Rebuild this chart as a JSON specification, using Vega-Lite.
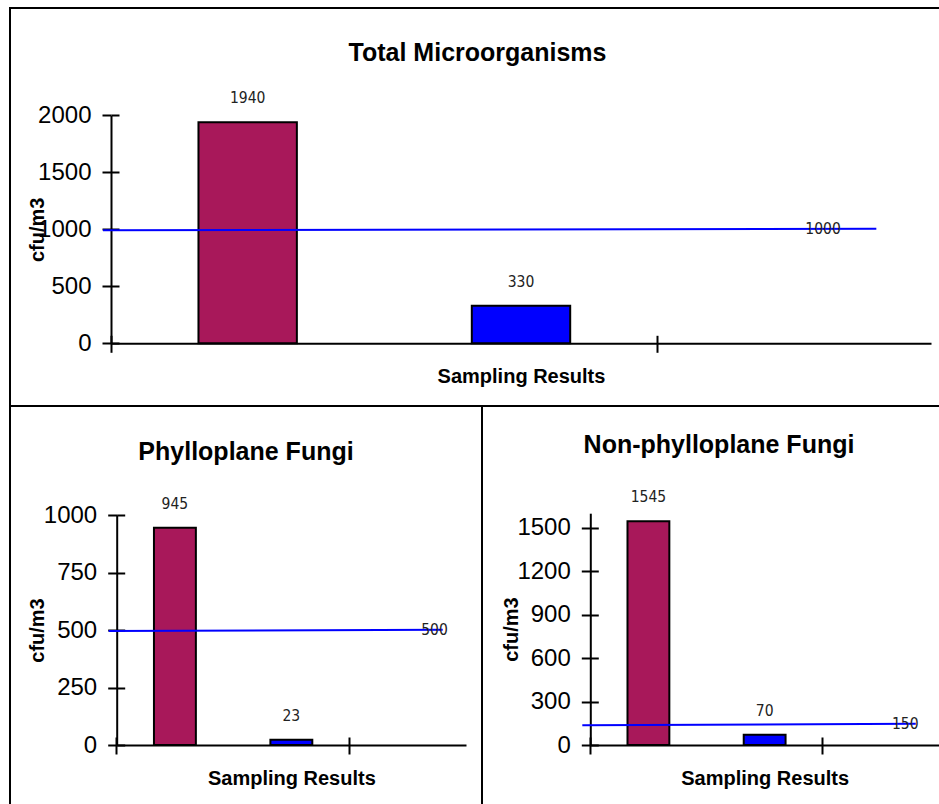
{
  "$schema": "https://vega.github.io/schema/vega-lite/v6.json",
  "padding": {"left": 9, "top": 7, "right": 0, "bottom": 0},
  "autosize": {"type": "pad"},
  "spacing": 0,
  "bounds": "flush",
  "config": {
    "view": {"stroke": "black", "strokeWidth": 2},
    "font": "Liberation Sans",
    "background": "white"
  },
  "datasets": {
    "counts": [
      {"panel": "Total Microorganisms", "series": "Series 1", "count": 1940},
      {"panel": "Total Microorganisms", "series": "Series 2", "count": 330},
      {"panel": "Phylloplane Fungi", "series": "Series 1", "count": 945},
      {"panel": "Phylloplane Fungi", "series": "Series 2", "count": 23},
      {"panel": "Non-phylloplane Fungi", "series": "Series 1", "count": 1545},
      {"panel": "Non-phylloplane Fungi", "series": "Series 2", "count": 70}
    ],
    "limits": [
      {"panel": "Total Microorganisms", "limit": 1000, "line_start": 992, "line_end": 1004},
      {"panel": "Phylloplane Fungi", "limit": 500, "line_start": 496, "line_end": 501},
      {"panel": "Non-phylloplane Fungi", "limit": 150, "line_start": 136, "line_end": 147}
    ]
  },
  "vconcat": [
    {
      "width": 935,
      "height": 398,
      "title": {"text": "Total Microorganisms", "fontSize": 25, "font": "Liberation Sans", "fontWeight": "bold", "anchor": "middle", "offset": -70, "baseline": "middle", "color": "black"},
      "resolve": {"axis": {"x": "independent", "y": "independent"}},
      "layer": [
        {
          "data": {"name": "counts"},
          "transform": [{"filter": "datum.panel === 'Total Microorganisms'"}],
          "mark": {"type": "bar", "width": {"band": 0.36}, "stroke": "black", "strokeWidth": 2},
          "encoding": {
            "x": {"field": "series", "type": "nominal",
              "scale": {"domain": ["Series 1", "Series 2", "Limit"], "range": [101, 921], "paddingInner": 0, "paddingOuter": 0},
              "axis": {"orient": "bottom", "offset": -62.7, "values": ["Series 1", "Limit"], "bandPosition": 0, "labels": false, "tickSize": 9, "tickWidth": 2, "tickColor": "black", "domainColor": "black", "domainWidth": 2, "title": "Sampling Results", "titleFont": "Liberation Sans", "titleFontSize": 20, "titleFontWeight": "bold", "titleColor": "black", "titleY": 33, "titleBaseline": "middle", "grid": false}},
            "y": {"field": "count", "type": "quantitative",
              "scale": {"domain": [0, 2000], "range": [335.3, 107.3], "nice": false},
              "axis": {"orient": "left", "offset": -101, "values": [0, 500, 1000, 1500, 2000], "format": "d", "tickSize": 9, "tickWidth": 2, "tickColor": "black", "domainColor": "black", "domainWidth": 2, "labelFont": "Liberation Sans", "labelFontSize": 24, "labelColor": "black", "labelPadding": 11, "title": "cfu/m3", "titleFont": "Liberation Sans", "titleFontSize": 20, "titleFontWeight": "bold", "titleColor": "black", "titleX": -74, "titleBaseline": "middle", "grid": false}},
            "color": {"field": "series", "type": "nominal", "scale": {"domain": ["Series 1", "Series 2"], "range": ["#A8185A", "#0000FF"]}, "legend": null}
          }
        },
        {
          "data": {"name": "counts"},
          "transform": [{"filter": "datum.panel === 'Total Microorganisms'"}],
          "mark": {"type": "text", "dy": -24, "baseline": "middle", "align": "center", "font": "DejaVu Sans Condensed, Liberation Sans", "fontSize": 15.5, "color": "#222222"},
          "encoding": {
            "x": {"field": "series", "type": "nominal", "axis": null},
            "y": {"field": "count", "type": "quantitative", "axis": null},
            "text": {"field": "count", "type": "quantitative", "format": "d"}
          }
        },
        {
          "data": {"name": "limits"},
          "transform": [{"filter": "datum.panel === 'Total Microorganisms'"}],
          "mark": {"type": "rule", "color": "#0000FF", "strokeWidth": 2, "xOffset": -8},
          "encoding": {
            "x": {"datum": "Series 1", "bandPosition": 0,
              "axis": {"orient": "bottom", "offset": -62.7, "values": ["Series 1", "Limit"], "bandPosition": 0, "labels": false, "domain": false, "tickSize": -8, "tickWidth": 2, "tickColor": "black", "title": null, "grid": false}},
            "x2": {"datum": "Limit", "bandPosition": 0.8},
            "y": {"field": "line_start", "type": "quantitative",
              "axis": {"orient": "left", "offset": -101, "values": [0, 500, 1000, 1500, 2000], "labels": false, "domain": false, "tickSize": -8, "tickWidth": 2, "tickColor": "black", "title": null, "grid": false}},
            "y2": {"field": "line_end"}
          }
        },
        {
          "data": {"name": "limits"},
          "transform": [{"filter": "datum.panel === 'Total Microorganisms'"}],
          "mark": {"type": "text", "baseline": "middle", "align": "center", "font": "DejaVu Sans Condensed, Liberation Sans", "fontSize": 15.5, "color": "#222222"},
          "encoding": {
            "x": {"datum": "Limit", "bandPosition": 0.605, "axis": null},
            "y": {"field": "line_end", "type": "quantitative", "axis": null},
            "text": {"field": "limit", "type": "quantitative", "format": "d"}
          }
        }
      ]
    },
    {
      "hconcat": [
        {
          "width": 472,
          "height": 402,
          "title": {"text": "Phylloplane Fungi", "fontSize": 25, "font": "Liberation Sans", "fontWeight": "bold", "anchor": "middle", "offset": -71, "baseline": "middle", "color": "black"},
          "resolve": {"axis": {"x": "independent", "y": "independent"}},
          "layer": [
            {
              "data": {"name": "counts"},
              "transform": [{"filter": "datum.panel === 'Phylloplane Fungi'"}],
              "mark": {"type": "bar", "width": {"band": 0.36}, "stroke": "black", "strokeWidth": 2},
              "encoding": {
                "x": {"field": "series", "type": "nominal",
                  "scale": {"domain": ["Series 1", "Series 2", "Limit"], "range": [106.7, 456], "paddingInner": 0, "paddingOuter": 0},
                  "axis": {"orient": "bottom", "offset": -63, "values": ["Series 1", "Limit"], "bandPosition": 0, "labels": false, "tickSize": 9, "tickWidth": 2, "tickColor": "black", "domainColor": "black", "domainWidth": 2, "title": "Sampling Results", "titleFont": "Liberation Sans", "titleFontSize": 20, "titleFontWeight": "bold", "titleColor": "black", "titleY": 33, "titleBaseline": "middle", "grid": false}},
                "y": {"field": "count", "type": "quantitative",
                  "scale": {"domain": [0, 1000], "range": [339, 109], "nice": false},
                  "axis": {"orient": "left", "offset": -106.7, "values": [0, 250, 500, 750, 1000], "format": "d", "tickSize": 9, "tickWidth": 2, "tickColor": "black", "domainColor": "black", "domainWidth": 2, "labelFont": "Liberation Sans", "labelFontSize": 24, "labelColor": "black", "labelPadding": 11, "title": "cfu/m3", "titleFont": "Liberation Sans", "titleFontSize": 20, "titleFontWeight": "bold", "titleColor": "black", "titleX": -79, "titleBaseline": "middle", "grid": false}},
                "color": {"field": "series", "type": "nominal", "scale": {"domain": ["Series 1", "Series 2"], "range": ["#A8185A", "#0000FF"]}, "legend": null}
              }
            },
            {
              "data": {"name": "counts"},
              "transform": [{"filter": "datum.panel === 'Phylloplane Fungi'"}],
              "mark": {"type": "text", "dy": -24, "baseline": "middle", "align": "center", "font": "DejaVu Sans Condensed, Liberation Sans", "fontSize": 15.5, "color": "#222222"},
              "encoding": {
                "x": {"field": "series", "type": "nominal", "axis": null},
                "y": {"field": "count", "type": "quantitative", "axis": null},
                "text": {"field": "count", "type": "quantitative", "format": "d"}
              }
            },
            {
              "data": {"name": "limits"},
              "transform": [{"filter": "datum.panel === 'Phylloplane Fungi'"}],
              "mark": {"type": "rule", "color": "#0000FF", "strokeWidth": 2, "xOffset": -8},
              "encoding": {
                "x": {"datum": "Series 1", "bandPosition": 0,
                  "axis": {"orient": "bottom", "offset": -63, "values": ["Series 1", "Limit"], "bandPosition": 0, "labels": false, "domain": false, "tickSize": -8, "tickWidth": 2, "tickColor": "black", "title": null, "grid": false}},
                "x2": {"datum": "Limit", "bandPosition": 0.8},
                "y": {"field": "line_start", "type": "quantitative",
                  "axis": {"orient": "left", "offset": -106.7, "values": [0, 250, 500, 750, 1000], "labels": false, "domain": false, "tickSize": -8, "tickWidth": 2, "tickColor": "black", "title": null, "grid": false}},
                "y2": {"field": "line_end"}
              }
            },
            {
              "data": {"name": "limits"},
              "transform": [{"filter": "datum.panel === 'Phylloplane Fungi'"}],
              "mark": {"type": "text", "baseline": "middle", "align": "center", "font": "DejaVu Sans Condensed, Liberation Sans", "fontSize": 15.5, "color": "#222222"},
              "encoding": {
                "x": {"datum": "Limit", "bandPosition": 0.73, "axis": null},
                "y": {"field": "line_end", "type": "quantitative", "axis": null},
                "text": {"field": "limit", "type": "quantitative", "format": "d"}
              }
            }
          ]
        },
        {
          "width": 463,
          "height": 402,
          "title": {"text": "Non-phylloplane Fungi", "fontSize": 25, "font": "Liberation Sans", "fontWeight": "bold", "anchor": "middle", "offset": -64, "dx": 5.5, "baseline": "middle", "color": "black"},
          "resolve": {"axis": {"x": "independent", "y": "independent"}},
          "layer": [
            {
              "data": {"name": "counts"},
              "transform": [{"filter": "datum.panel === 'Non-phylloplane Fungi'"}],
              "mark": {"type": "bar", "width": {"band": 0.36}, "stroke": "black", "strokeWidth": 2},
              "encoding": {
                "x": {"field": "series", "type": "nominal",
                  "scale": {"domain": ["Series 1", "Series 2", "Limit"], "range": [108.3, 457], "paddingInner": 0, "paddingOuter": 0},
                  "axis": {"orient": "bottom", "offset": -63, "values": ["Series 1", "Limit"], "bandPosition": 0, "labels": false, "tickSize": 9, "tickWidth": 2, "tickColor": "black", "domainColor": "black", "domainWidth": 2, "title": "Sampling Results", "titleFont": "Liberation Sans", "titleFontSize": 20, "titleFontWeight": "bold", "titleColor": "black", "titleY": 33, "titleBaseline": "middle", "grid": false}},
                "y": {"field": "count", "type": "quantitative",
                  "scale": {"domain": [0, 1600], "range": [339, 107.2], "nice": false},
                  "axis": {"orient": "left", "offset": -108.3, "values": [0, 300, 600, 900, 1200, 1500], "format": "d", "tickSize": 9, "tickWidth": 2, "tickColor": "black", "domainColor": "black", "domainWidth": 2, "labelFont": "Liberation Sans", "labelFontSize": 24, "labelColor": "black", "labelPadding": 11, "title": "cfu/m3", "titleFont": "Liberation Sans", "titleFontSize": 20, "titleFontWeight": "bold", "titleColor": "black", "titleX": -79.3, "titleBaseline": "middle", "grid": false}},
                "color": {"field": "series", "type": "nominal", "scale": {"domain": ["Series 1", "Series 2"], "range": ["#A8185A", "#0000FF"]}, "legend": null}
              }
            },
            {
              "data": {"name": "counts"},
              "transform": [{"filter": "datum.panel === 'Non-phylloplane Fungi'"}],
              "mark": {"type": "text", "dy": -24, "baseline": "middle", "align": "center", "font": "DejaVu Sans Condensed, Liberation Sans", "fontSize": 15.5, "color": "#222222"},
              "encoding": {
                "x": {"field": "series", "type": "nominal", "axis": null},
                "y": {"field": "count", "type": "quantitative", "axis": null},
                "text": {"field": "count", "type": "quantitative", "format": "d"}
              }
            },
            {
              "data": {"name": "limits"},
              "transform": [{"filter": "datum.panel === 'Non-phylloplane Fungi'"}],
              "mark": {"type": "rule", "color": "#0000FF", "strokeWidth": 2, "xOffset": -8},
              "encoding": {
                "x": {"datum": "Series 1", "bandPosition": 0,
                  "axis": {"orient": "bottom", "offset": -63, "values": ["Series 1", "Limit"], "bandPosition": 0, "labels": false, "domain": false, "tickSize": -8, "tickWidth": 2, "tickColor": "black", "title": null, "grid": false}},
                "x2": {"datum": "Limit", "bandPosition": 0.8},
                "y": {"field": "line_start", "type": "quantitative",
                  "axis": {"orient": "left", "offset": -108.3, "values": [0, 300, 600, 900, 1200, 1500], "labels": false, "domain": false, "tickSize": -8, "tickWidth": 2, "tickColor": "black", "title": null, "grid": false}},
                "y2": {"field": "line_end"}
              }
            },
            {
              "data": {"name": "limits"},
              "transform": [{"filter": "datum.panel === 'Non-phylloplane Fungi'"}],
              "mark": {"type": "text", "baseline": "middle", "align": "center", "font": "DejaVu Sans Condensed, Liberation Sans", "fontSize": 15.5, "color": "#222222"},
              "encoding": {
                "x": {"datum": "Limit", "bandPosition": 0.71, "axis": null},
                "y": {"field": "line_end", "type": "quantitative", "axis": null},
                "text": {"field": "limit", "type": "quantitative", "format": "d"}
              }
            }
          ]
        }
      ],
      "spacing": 0,
      "bounds": "flush"
    }
  ]
}
